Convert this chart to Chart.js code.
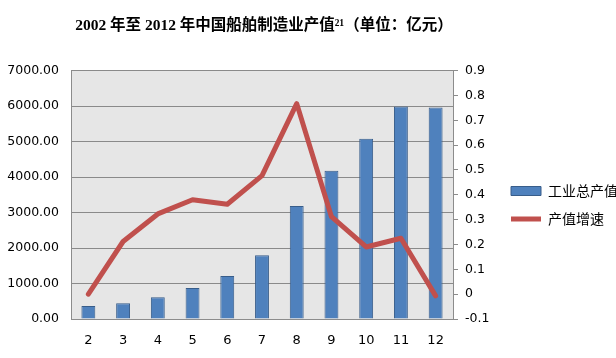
<!DOCTYPE html>
<html><head><meta charset="utf-8">
<script src="https://cdn.jsdelivr.net/npm/chart.js@4.4.1/dist/chart.umd.min.js"></script>
<style>html,body{margin:0;padding:0;background:#fff}#wrap{width:616px;height:358px}</style>
</head><body><div id="wrap"><canvas id="c" width="616" height="358"></canvas></div>
<script>
const categories = ['2','3','4','5','6','7','8','9','10','11','12'];
const outputValue = [367, 443, 613, 876, 1215, 1800, 3183, 4180, 5076, 5990, 5960];
const growthRate = [0.0, 0.212, 0.323, 0.38, 0.362, 0.477, 0.767, 0.312, 0.19, 0.225, -0.007];
const leftTicks = [0,1000,2000,3000,4000,5000,6000,7000];
const rightTicks = [-0.1,0,0.1,0.2,0.3,0.4,0.5,0.6,0.7,0.8,0.9];

const plotBg = {
  id:'plotBg',
  beforeDraw(chart){
    const a = chart.chartArea, ctx = chart.ctx;
    ctx.save(); ctx.fillStyle = '#e6e6e6';
    ctx.fillRect(a.left, a.top, a.right-a.left, a.bottom-a.top);
    ctx.restore();
  }
};

new Chart(document.getElementById('c'), {
  type:'bar',
  data:{
    labels: categories,
    datasets:[
      {type:'bar', label:'工业总产值', data: outputValue, yAxisID:'y',
       backgroundColor:'#4f81bd', borderColor:'#385d8a', borderWidth:1,
       barPercentage:0.8, categoryPercentage:0.5, order:1, pointStyle:'rect'},
      {type:'line', label:'产值增速', data: growthRate, yAxisID:'y1',
       borderColor:'#c0504d', backgroundColor:'#c0504d', borderWidth:5,
       pointRadius:0, pointStyle:'line', tension:0, borderCapStyle:'round',
       borderJoinStyle:'round', order:0}
    ]
  },
  plugins:[plotBg],
  options:{
    responsive:false, animation:false,
    layout:{padding:{left:0,right:0,top:0,bottom:0}},
    plugins:{
      title:{display:true, fullSize:false, text:' 2002 年至 2012 年中国船舶制造业产值²¹（单位：亿元）',
        color:'#000', font:{family:'"Liberation Serif","Noto Sans CJK SC",serif', size:15.5, weight:'bold'},
        padding:{top:17,bottom:35}},
      legend:{position:'right', align:'center', maxWidth:119,
        title:{display:true, text:' ', font:{size:10}, padding:{top:40,bottom:0}},
        labels:{usePointStyle:true, pointStyleWidth:30, boxHeight:9, color:'#000',
          font:{family:'"Noto Sans CJK SC",sans-serif', size:14}, padding:14,
          sort:(a,b)=>a.datasetIndex-b.datasetIndex}},
      tooltip:{enabled:false}
    },
    scales:{
      x:{grid:{display:false, drawTicks:false}, border:{display:true,color:'#8c8c8c'},
        ticks:{color:'#000', font:{family:'"DejaVu Sans",sans-serif', size:13}, padding:14},
        afterFit(s){ s.height = 39; }},
      y:{position:'left', min:0, max:7000,
        afterBuildTicks(s){ s.ticks = leftTicks.map(v=>({value:v})); },
        grid:{color:'#8a8a8a', drawTicks:false}, border:{display:true,color:'#8c8c8c'},
        ticks:{color:'#000', font:{family:'"DejaVu Sans",sans-serif', size:12.5}, padding:12,
          callback:(v)=>Number(v).toFixed(2)},
        afterFit(s){ s.width = 71; }},
      y1:{position:'right', min:-0.1, max:0.9,
        afterBuildTicks(s){ s.ticks = rightTicks.map(v=>({value:v})); },
        grid:{drawOnChartArea:false, color:'#8c8c8c', tickLength:5}, border:{display:true,color:'#8c8c8c'},
        ticks:{color:'#000', font:{family:'"DejaVu Sans",sans-serif', size:12.5}, padding:7,
          callback:(v)=>{ const r=Math.round(v*10)/10; return r===0?'0':String(r); }},
        afterFit(s){ s.width = 44; }}
    }
  }
});
</script></body></html>
